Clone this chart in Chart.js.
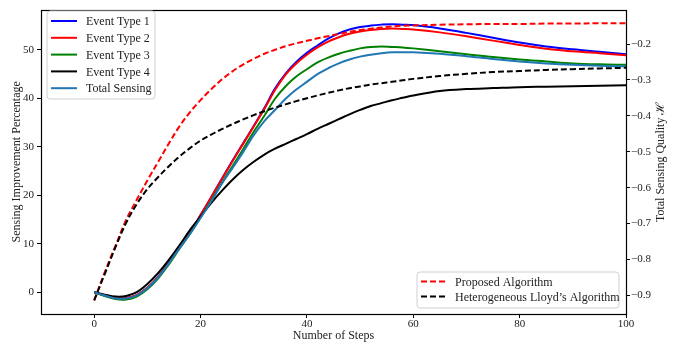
<!DOCTYPE html>
<html><head><meta charset="utf-8">
<script src="https://cdn.jsdelivr.net/npm/chart.js@4.4.0/dist/chart.umd.min.js"></script>
<style>html,body{margin:0;padding:0;background:#fff;}canvas{display:block}</style>
</head><body>
<canvas id="c" width="683" height="345"></canvas>
<script>
const steps = [0,2,4,6,8,10,12,14,16,18,20,22,24,26,28,30,32,34,36,38,40,42,44,46,48,50,52,54,56,58,60,65,70,75,80,85,90,95,100];
const eventType1 = [0,-0.7,-1.2,-1.2,-0.6,0.9,3.1,6.1,9.3,12.3,15.9,19.6,23.4,27.1,30.7,34.3,38,42,45.1,47.5,49.4,50.9,52.3,53.4,54.2,54.7,55,55.2,55.3,55.2,55.1,54.4,53.5,52.5,51.5,50.7,50.1,49.6,49.1];
const eventType2 = [0,-0.7,-1.2,-1.2,-0.6,0.9,3.1,6.1,9.3,12.3,15.9,19.6,23.3,27,30.6,34.2,37.8,41.7,44.9,47.2,49,50.5,51.7,52.6,53.3,53.8,54.1,54.3,54.4,54.3,54.2,53.6,52.8,51.9,51,50.2,49.7,49.3,48.9];
const eventType3 = [0,-0.8,-1.4,-1.5,-0.9,0.6,2.8,5.7,8.9,12,15.4,18.9,22.5,26,29.5,33.1,36.4,39.9,42.5,44.5,46,47.4,48.4,49.2,49.8,50.3,50.6,50.7,50.6,50.5,50.3,49.7,49.1,48.5,48,47.6,47.2,47,46.9];
const eventType4 = [0,-0.5,-0.9,-0.8,0,1.7,3.9,6.6,9.6,12.8,15.6,18.4,20.9,23.2,25.2,26.9,28.4,29.6,30.6,31.6,32.6,33.7,34.7,35.7,36.7,37.6,38.4,39,39.6,40.1,40.6,41.5,41.9,42.1,42.3,42.4,42.5,42.6,42.7];
const totalSensing = [0,-0.7,-1.3,-1.3,-0.7,0.8,3,5.9,9,12,15.3,18.7,22.4,25.6,28.9,32.4,35.3,37.6,39.9,41.8,43.4,45,46.2,47.2,48,48.6,49,49.3,49.5,49.5,49.5,49.2,48.7,48.1,47.6,47.2,46.9,46.7,46.6];
const proposedAlgorithm = [-0.914,-0.835,-0.762,-0.69,-0.634,-0.58,-0.529,-0.478,-0.43,-0.39,-0.356,-0.326,-0.299,-0.276,-0.257,-0.241,-0.227,-0.216,-0.206,-0.198,-0.191,-0.184,-0.178,-0.172,-0.166,-0.161,-0.157,-0.154,-0.151,-0.149,-0.148,-0.146,-0.145,-0.144,-0.144,-0.143,-0.143,-0.142,-0.142];
const lloydAlgorithm = [-0.914,-0.84,-0.766,-0.698,-0.646,-0.604,-0.571,-0.541,-0.514,-0.49,-0.469,-0.452,-0.437,-0.423,-0.41,-0.398,-0.387,-0.377,-0.368,-0.359,-0.351,-0.343,-0.336,-0.329,-0.323,-0.318,-0.313,-0.309,-0.305,-0.301,-0.297,-0.289,-0.283,-0.278,-0.275,-0.272,-0.27,-0.268,-0.266];
const xTicks = [0,20,40,60,80,100];
const leftTicks = [0,10,20,30,40,50];
const rightTicks = [-0.9,-0.8,-0.7,-0.6,-0.5,-0.4,-0.3,-0.2];
const seriesNames = ['Event Type 1','Event Type 2','Event Type 3','Event Type 4','Total Sensing'];
const algoNames = ['Proposed Algorithm',"Heterogeneous Lloyd\u2019s Algorithm"];
const xTitle = 'Number of Steps';
const leftTitle = 'Sensing Improvement Percentage';
const rightTitle = 'Total Sensing Quality \u210B';

const FONT = '"Liberation Serif", "DejaVu Serif", serif';
const pts = arr => steps.map((x,i)=>({x:x,y:arr[i]}));
const solidColors = ['#0000ff','#ff0000','#008000','#000000','#1f77b4'];
const solidData = [eventType1,eventType2,eventType3,eventType4,totalSensing];
const datasets = [];
solidData.forEach((d,i)=>datasets.push({label:seriesNames[i],data:pts(d),borderColor:solidColors[i],borderWidth:2,yAxisID:'y',order:7-i}));
datasets.push({label:algoNames[0],data:pts(proposedAlgorithm),borderColor:'#ff0000',borderWidth:2,borderDash:[6,3],yAxisID:'y2',order:1});
datasets.push({label:algoNames[1],data:pts(lloydAlgorithm),borderColor:'#000000',borderWidth:2,borderDash:[6,3],yAxisID:'y2',order:0});
datasets.forEach(d=>{d.pointRadius=0;d.fill=false;d.tension=0.35;});

function drawLegend(ctx, box, names, colors, dashed){
  ctx.save();
  ctx.beginPath();
  const r=3;
  ctx.moveTo(box.x+r,box.y);ctx.lineTo(box.x+box.w-r,box.y);ctx.quadraticCurveTo(box.x+box.w,box.y,box.x+box.w,box.y+r);
  ctx.lineTo(box.x+box.w,box.y+box.h-r);ctx.quadraticCurveTo(box.x+box.w,box.y+box.h,box.x+box.w-r,box.y+box.h);
  ctx.lineTo(box.x+r,box.y+box.h);ctx.quadraticCurveTo(box.x,box.y+box.h,box.x,box.y+box.h-r);
  ctx.lineTo(box.x,box.y+r);ctx.quadraticCurveTo(box.x,box.y,box.x+r,box.y);ctx.closePath();
  ctx.fillStyle='rgba(255,255,255,0.85)';ctx.fill();
  ctx.strokeStyle='#d0d0d0';ctx.lineWidth=1;ctx.stroke();
  names.forEach((n,i)=>{
    const y=box.y+box.first+i*box.dy;
    ctx.beginPath();ctx.setLineDash(dashed?[6,3]:[]);
    ctx.strokeStyle=colors[i];ctx.lineWidth=2;
    ctx.moveTo(box.x+4,y);ctx.lineTo(box.x+4+box.len,y);ctx.stroke();
    ctx.setLineDash([]);
    ctx.fillStyle='#222';ctx.font='12px '+FONT;ctx.textBaseline='middle';ctx.textAlign='left';
    ctx.fillText(n,box.x+box.tx,y+1);
  });
  ctx.restore();
}

const decor = {
  id:'decor',
  afterDraw(chart){
    const ctx=chart.ctx, a=chart.chartArea;
    ctx.save();
    ctx.strokeStyle='#000';ctx.lineWidth=1.2;
    ctx.strokeRect(Math.round(a.left)+0.5,Math.round(a.top)+0.5,Math.round(a.right-a.left),Math.round(a.bottom-a.top));
    ctx.fillStyle='#222';ctx.font='12px '+FONT;ctx.textAlign='center';ctx.textBaseline='middle';
    ctx.fillText(xTitle,(a.left+a.right)/2,336);
    ctx.save();ctx.translate(17,(a.top+a.bottom)/2);ctx.rotate(-Math.PI/2);ctx.fillText(leftTitle,0,0);ctx.restore();
    ctx.save();ctx.translate(661,(a.top+a.bottom)/2);ctx.rotate(-Math.PI/2);ctx.fillText(rightTitle,0,0);ctx.restore();
    ctx.restore();
    drawLegend(ctx,{x:47,y:11,w:108,h:88,first:10,dy:16.8,len:26,tx:39},seriesNames,solidColors,false);
    drawLegend(ctx,{x:417,y:272,w:202,h:36,first:9.5,dy:15,len:25,tx:38},algoNames,['#ff0000','#000000'],true);
  }
};

const tickFont={family:FONT,size:11};
new Chart(document.getElementById('c'),{
  type:'line',
  data:{datasets:datasets},
  plugins:[decor],
  options:{
    responsive:false,animation:false,devicePixelRatio:1,
    layout:{padding:{top:5,left:0,right:0,bottom:0}},
    plugins:{legend:{display:false},tooltip:{enabled:false}},
    scales:{
      x:{type:'linear',min:-10,max:100,
        afterBuildTicks:s=>{s.ticks=xTicks.map(v=>({value:v}));},
        afterFit:s=>{s.height=31;},
        grid:{drawOnChartArea:false,drawTicks:true,tickLength:4,color:'#000'},border:{display:false},
        ticks:{font:tickFont,color:'#222',padding:0,maxRotation:0}},
      y:{type:'linear',position:'left',min:-4.5,max:58.3,
        afterBuildTicks:s=>{s.ticks=leftTicks.map(v=>({value:v}));},
        afterFit:s=>{s.width=41;},
        grid:{drawOnChartArea:false,drawTicks:true,tickLength:4,color:'#000'},border:{display:false},
        ticks:{font:tickFont,color:'#222',padding:3}},
      y2:{type:'linear',position:'right',min:-0.952,max:-0.104,
        afterBuildTicks:s=>{s.ticks=rightTicks.map(v=>({value:v}));},
        afterFit:s=>{s.width=57;},
        grid:{drawOnChartArea:false,drawTicks:true,tickLength:4,color:'#000'},border:{display:false},
        ticks:{font:tickFont,color:'#222',padding:1,callback:v=>'\u2212'+Math.abs(v).toFixed(1)}}
    }
  }
});
</script>
</body></html>
